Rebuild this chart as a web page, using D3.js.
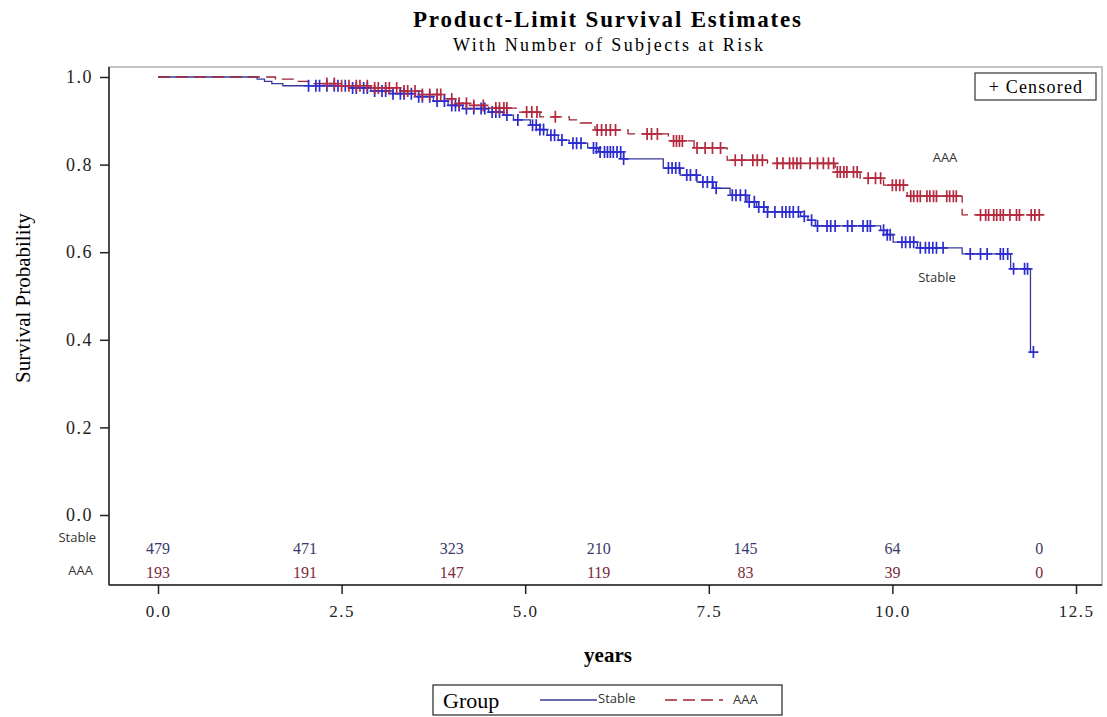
<!DOCTYPE html>
<html lang="en">
<head>
    <meta charset="UTF-8">
    <title>Product-Limit Survival Estimates</title>
    <script src="https://d3js.org/d3.v7.min.js"></script>
    <style>
        body {
            margin: 0;
            padding: 0;
            background-color: #fff;
            overflow: hidden;
        }
        .serif { font-family: "Liberation Serif", "DejaVu Serif", serif; }
        .sans { font-family: "Open Sans", "DejaVu Sans", sans-serif; }
    </style>
</head>
<body>
    <div id="chart"></div>

    <script>
        // Kaplan-Meier steps: [years, survival]
        const stableSteps = [
            [0, 1.0], [1.35, 0.995], [1.45, 0.99], [1.55, 0.985], [1.7, 0.98],
            [2.6, 0.975], [2.9, 0.968], [3.2, 0.962], [3.5, 0.955], [3.75, 0.945],
            [3.95, 0.935], [4.15, 0.928], [4.5, 0.92], [4.7, 0.913], [4.84, 0.902],
            [5.07, 0.89], [5.2, 0.88], [5.3, 0.867], [5.45, 0.856], [5.6, 0.849],
            [5.85, 0.838], [6.0, 0.829], [6.34, 0.813], [6.88, 0.792], [7.11, 0.776],
            [7.34, 0.76], [7.56, 0.746], [7.79, 0.73], [8.02, 0.715], [8.15, 0.703],
            [8.3, 0.692], [8.75, 0.682], [8.85, 0.673], [8.95, 0.66], [9.84, 0.65],
            [9.92, 0.64], [10.01, 0.623], [10.34, 0.61], [10.95, 0.596], [11.61, 0.562],
            [11.88, 0.372]
        ];
        const stableEnd = 11.92;
        const stableCensored = [
            2.05, 2.15, 2.2, 2.3, 2.4, 2.45, 2.55, 2.65, 2.7, 2.8, 2.85, 2.95, 3.05, 3.1,
            3.2, 3.3, 3.35, 3.45, 3.55, 3.6, 3.7, 3.8, 3.9, 4.0, 4.05, 4.1, 4.2, 4.3, 4.4,
            4.45, 4.55, 4.6, 4.65, 4.75, 4.9, 5.1, 5.15, 5.2, 5.25, 5.35, 5.4, 5.5, 5.65,
            5.7, 5.76, 5.93, 5.97, 6.02, 6.08, 6.12, 6.16, 6.2, 6.25, 6.3, 6.34, 6.95, 7.0,
            7.05, 7.1, 7.2, 7.25, 7.33, 7.42, 7.48, 7.55, 7.6, 7.82, 7.87, 7.93, 8.0, 8.05,
            8.12, 8.18, 8.25, 8.3, 8.4, 8.5, 8.55, 8.6, 8.65, 8.72, 8.8, 8.9, 8.98, 9.11,
            9.16, 9.22, 9.39, 9.45, 9.6, 9.66, 9.7, 9.88, 9.93, 9.97, 10.13, 10.18, 10.24,
            10.29, 10.38, 10.45, 10.5, 10.55, 10.6, 10.69, 11.06, 11.2, 11.29, 11.47,
            11.51, 11.57, 11.65, 11.8, 11.84, 11.92
        ];

        const aaaSteps = [
            [0, 1.0], [1.6, 0.995], [1.9, 0.99], [2.05, 0.985], [2.5, 0.98], [2.9, 0.975],
            [3.3, 0.968], [3.6, 0.96], [3.9, 0.95], [4.1, 0.94], [4.3, 0.935], [4.5, 0.929],
            [4.9, 0.92], [5.2, 0.909], [5.6, 0.902], [5.75, 0.895], [5.95, 0.879],
            [6.4, 0.87], [6.95, 0.854], [7.3, 0.838], [7.75, 0.81], [8.3, 0.803],
            [9.22, 0.783], [9.56, 0.769], [9.88, 0.753], [10.2, 0.728], [10.95, 0.685]
        ];
        const aaaEnd = 12.0;
        const aaaCensored = [
            2.3, 2.4, 2.5, 2.6, 2.7, 2.75, 2.85, 2.95, 3.0, 3.1, 3.15, 3.25, 3.35, 3.4, 3.5,
            3.6, 3.7, 3.8, 3.85, 4.0, 4.1, 4.2, 4.3, 4.43, 4.6, 4.65, 4.71, 4.75, 5.02,
            5.09, 5.16, 5.41, 5.98, 6.04, 6.1, 6.16, 6.23, 6.66, 6.72, 6.8, 7.02, 7.06,
            7.1, 7.14, 7.34, 7.45, 7.55, 7.66, 7.86, 7.95, 8.1, 8.16, 8.23, 8.43, 8.51,
            8.6, 8.65, 8.7, 8.75, 8.88, 8.98, 9.06, 9.13, 9.2, 9.25, 9.29, 9.34, 9.38,
            9.47, 9.52, 9.67, 9.77, 9.84, 10.0, 10.05, 10.1, 10.15, 10.25, 10.29, 10.34,
            10.38, 10.47, 10.51, 10.56, 10.6, 10.74, 10.78, 10.83, 10.87, 11.2, 11.27,
            11.31, 11.38, 11.42, 11.47, 11.51, 11.6, 11.69, 11.73, 11.89, 11.94, 12.0
        ];

        // Number of subjects at risk
        const riskTimes = [0, 2, 4, 6, 8, 10, 12];
        const stableRisk = [479, 471, 323, 210, 145, 64, 0];
        const aaaRisk = [193, 191, 147, 119, 83, 39, 0];

        const xTicks = [0, 2.5, 5, 7.5, 10, 12.5];
        const yTicks = [0, 0.2, 0.4, 0.6, 0.8, 1.0];

        const width = 1107;
        const height = 717;

        const svg = d3.select("#chart").append("svg")
            .attr("width", width)
            .attr("height", height);

        // plot frame
        const frame = { left: 109, right: 1102, top: 67, bottom: 585 };

        const x = d3.scaleLinear().domain([0, 12.5]).range([158, 1076]);
        const y = d3.scaleLinear().domain([0, 1]).range([515, 77]);

        const colors = {
            stableLine: "#38389a",
            stableMark: "#2c2cd0",
            aaaLine: "#9e2336",
            aaaMark: "#b42a3e"
        };

        // titles
        svg.append("text")
            .attr("class", "serif")
            .attr("x", 607).attr("y", 27)
            .attr("text-anchor", "middle")
            .attr("font-size", 23).attr("font-weight", "bold")
            .attr("textLength", 388).attr("lengthAdjust", "spacing")
            .text("Product-Limit Survival Estimates");

        svg.append("text")
            .attr("class", "serif")
            .attr("x", 608).attr("y", 51)
            .attr("text-anchor", "middle")
            .attr("font-size", 18)
            .attr("textLength", 310).attr("lengthAdjust", "spacing")
            .text("With Number of Subjects at Risk");

        // frame: grey top/right, black left/bottom
        svg.append("rect")
            .attr("x", frame.left).attr("y", frame.top)
            .attr("width", frame.right - frame.left)
            .attr("height", frame.bottom - frame.top)
            .attr("fill", "none")
            .attr("stroke", "#b0b0b0")
            .attr("stroke-width", 1.5);

        // y axis
        const yAxis = svg.append("g")
            .attr("transform", `translate(${frame.left},0)`)
            .call(d3.axisLeft(y).tickValues(yTicks).tickFormat(d3.format(".1f")).tickSize(9).tickPadding(7));
        yAxis.select(".domain").attr("d", `M0,${frame.top}V${frame.bottom}`).attr("stroke", "#222").attr("stroke-width", 1.5);
        yAxis.selectAll(".tick line").attr("stroke", "#222").attr("stroke-width", 1.5);
        yAxis.selectAll(".tick text")
            .attr("class", "serif")
            .attr("font-size", 18)
            .attr("letter-spacing", 1.5)
            .attr("fill", "#222");

        // x axis
        const xAxis = svg.append("g")
            .attr("transform", `translate(0,${frame.bottom})`)
            .call(d3.axisBottom(x).tickValues(xTicks).tickFormat(d3.format(".1f")).tickSize(9).tickPadding(11));
        xAxis.select(".domain").attr("d", `M${frame.left},0H${frame.right}`).attr("stroke", "#222").attr("stroke-width", 1.5);
        xAxis.selectAll(".tick line").attr("stroke", "#222").attr("stroke-width", 1.5);
        xAxis.selectAll(".tick text")
            .attr("class", "serif")
            .attr("font-size", 17)
            .attr("letter-spacing", 1.5)
            .attr("fill", "#222");

        // axis labels
        svg.append("text")
            .attr("class", "serif")
            .attr("transform", "translate(30,298) rotate(-90)")
            .attr("text-anchor", "middle")
            .attr("font-size", 21)
            .text("Survival Probability");

        svg.append("text")
            .attr("class", "serif")
            .attr("x", 608).attr("y", 662)
            .attr("text-anchor", "middle")
            .attr("font-size", 21).attr("font-weight", "bold")
            .text("years");

        // survival curves
        const stepLine = d3.line()
            .x(d => x(d[0]))
            .y(d => y(d[1]))
            .curve(d3.curveStepAfter);

        function withEnd(steps, end) {
            return steps.concat([[end, steps[steps.length - 1][1]]]);
        }

        function survivalAt(steps, t) {
            let s = steps[0][1];
            steps.forEach(d => { if (d[0] <= t) s = d[1]; });
            return s;
        }

        const groups = [
            { name: "Stable", steps: stableSteps, end: stableEnd, censored: stableCensored,
              line: colors.stableLine, mark: colors.stableMark, dash: null },
            { name: "AAA", steps: aaaSteps, end: aaaEnd, censored: aaaCensored,
              line: colors.aaaLine, mark: colors.aaaMark, dash: "12,6" }
        ];

        groups.forEach(g => {
            svg.append("path")
                .datum(withEnd(g.steps, g.end))
                .attr("d", stepLine)
                .attr("fill", "none")
                .attr("stroke", g.line)
                .attr("stroke-width", 1.3)
                .attr("stroke-dasharray", g.dash);
        });

        // censor marks
        groups.forEach(g => {
            svg.append("g")
                .selectAll("path")
                .data(g.censored)
                .enter().append("path")
                .attr("d", t => {
                    const cx = x(t), cy = y(survivalAt(g.steps, t));
                    return `M${cx - 5},${cy}H${cx + 5}M${cx},${cy - 6}V${cy + 6}`;
                })
                .attr("stroke", g.mark)
                .attr("stroke-width", 1.7)
                .attr("fill", "none");
        });

        // curve labels
        svg.append("text")
            .attr("class", "sans")
            .attr("x", 945).attr("y", 162)
            .attr("text-anchor", "middle")
            .attr("font-size", 13)
            .attr("fill", "#333")
            .text("AAA");

        svg.append("text")
            .attr("class", "sans")
            .attr("x", 937).attr("y", 282)
            .attr("text-anchor", "middle")
            .attr("font-size", 13)
            .attr("fill", "#333")
            .text("Stable");

        // censored legend
        svg.append("rect")
            .attr("x", 975).attr("y", 73)
            .attr("width", 121).attr("height", 27)
            .attr("fill", "#fff")
            .attr("stroke", "#333")
            .attr("stroke-width", 1.2);
        svg.append("text")
            .attr("class", "serif")
            .attr("x", 1036).attr("y", 93)
            .attr("text-anchor", "middle")
            .attr("font-size", 18)
            .attr("letter-spacing", 1.2)
            .text("+ Censored");

        // at-risk table
        svg.append("text")
            .attr("class", "sans")
            .attr("x", 96).attr("y", 542)
            .attr("text-anchor", "end")
            .attr("font-size", 13)
            .attr("fill", "#333")
            .text("Stable");
        svg.append("text")
            .attr("class", "sans")
            .attr("x", 93).attr("y", 575)
            .attr("text-anchor", "end")
            .attr("font-size", 13)
            .attr("fill", "#333")
            .text("AAA");

        svg.append("g").selectAll("text")
            .data(riskTimes)
            .enter().append("text")
            .attr("class", "serif")
            .attr("x", d => x(d))
            .attr("y", 554)
            .attr("text-anchor", "middle")
            .attr("font-size", 16)
            .attr("fill", "#3a3a6a")
            .text((d, i) => stableRisk[i]);

        svg.append("g").selectAll("text")
            .data(riskTimes)
            .enter().append("text")
            .attr("class", "serif")
            .attr("x", d => x(d))
            .attr("y", 578)
            .attr("text-anchor", "middle")
            .attr("font-size", 16)
            .attr("fill", "#7a2a3a")
            .text((d, i) => aaaRisk[i]);

        // group legend
        svg.append("rect")
            .attr("x", 433).attr("y", 685)
            .attr("width", 349).attr("height", 30)
            .attr("fill", "#fff")
            .attr("stroke", "#333")
            .attr("stroke-width", 1.3);
        svg.append("text")
            .attr("class", "serif")
            .attr("x", 443).attr("y", 708)
            .attr("font-size", 22)
            .text("Group");
        svg.append("line")
            .attr("x1", 540).attr("x2", 597)
            .attr("y1", 700).attr("y2", 700)
            .attr("stroke", colors.stableLine)
            .attr("stroke-width", 1.3);
        svg.append("text")
            .attr("class", "sans")
            .attr("x", 598).attr("y", 703)
            .attr("font-size", 13)
            .attr("fill", "#333")
            .text("Stable");
        svg.append("line")
            .attr("x1", 665).attr("x2", 723)
            .attr("y1", 700).attr("y2", 700)
            .attr("stroke", colors.aaaLine)
            .attr("stroke-width", 1.3)
            .attr("stroke-dasharray", "12,6");
        svg.append("text")
            .attr("class", "sans")
            .attr("x", 733).attr("y", 704)
            .attr("font-size", 13)
            .attr("fill", "#333")
            .text("AAA");
    </script>
</body>
</html>
